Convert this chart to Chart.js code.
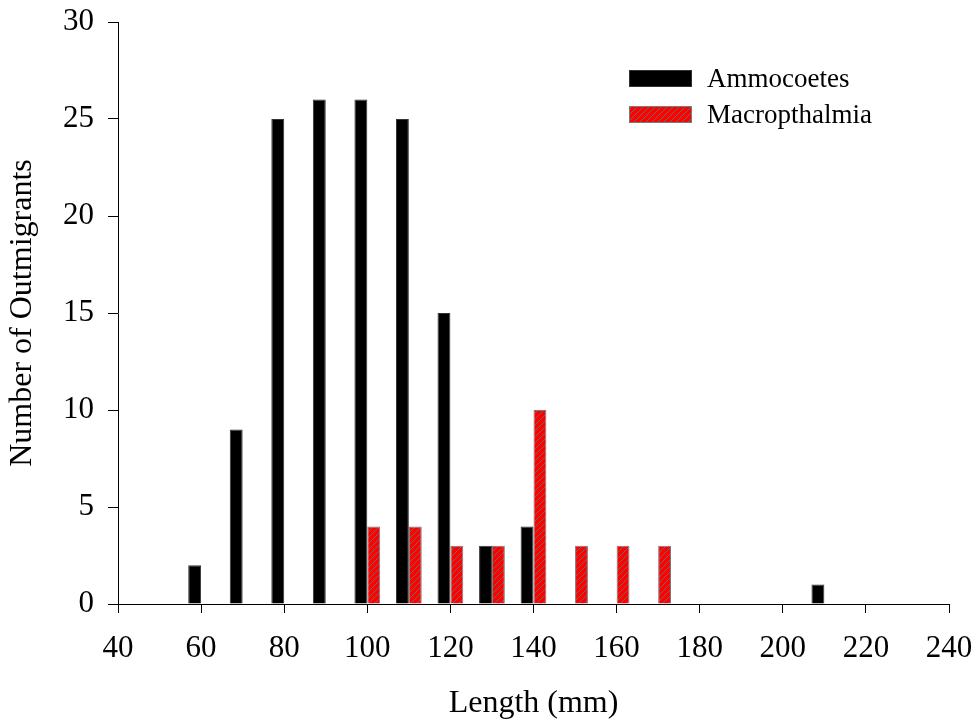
<!DOCTYPE html>
<html>
<head>
<meta charset="utf-8">
<title>Outmigrants by length</title>
<script src="https://cdn.jsdelivr.net/npm/chart.js@4.4.1/dist/chart.umd.min.js"></script>
<style>
  html, body { margin: 0; padding: 0; background: #fff; }
  #wrap { width: 979px; height: 723px; }
</style>
</head>
<body>
<div id="wrap"><canvas id="myChart" width="979" height="723"></canvas></div>
<script>
// length classes (mm) and counts
var lengths = [60, 70, 80, 90, 100, 110, 120, 130, 140, 150, 160, 170, 180, 190, 200, 210];
var ammocoetes = [2, 9, 25, 26, 26, 25, 15, 3, 4, 0, 0, 0, 0, 0, 0, 1];
var macropthalmia = [0, 0, 0, 0, 4, 4, 3, 3, 10, 3, 3, 3, 0, 0, 0, 0];
var xTicks = [40, 60, 80, 100, 120, 140, 160, 180, 200, 220, 240];
var yTicks = [0, 5, 10, 15, 20, 25, 30];
var seriesNames = ['Ammocoetes', 'Macropthalmia'];

var serif = "'Liberation Serif', 'Times New Roman', serif";

function toPoints(values) {
    var pts = [];
    for (var i = 0; i < lengths.length; i++) {
        if (values[i] > 0) pts.push({x: lengths[i], y: values[i]});
    }
    return pts;
}

var ctx = document.getElementById('myChart').getContext('2d');

function makeHatch() {
    var c = document.createElement('canvas');
    c.width = 6; c.height = 6;
    var g = c.getContext('2d');
    g.fillStyle = '#ff0000';
    g.fillRect(0, 0, 6, 6);
    g.strokeStyle = '#6a6a6a';
    g.lineWidth = 1;
    g.beginPath();
    g.moveTo(0, 6); g.lineTo(6, 0);
    g.moveTo(-1, 1); g.lineTo(1, -1);
    g.moveTo(5, 7); g.lineTo(7, 5);
    g.stroke();
    return ctx.createPattern(c, 'repeat');
}
var hatch = makeHatch();

// legend in the top right corner of the plot
var boxLegend = {
    id: 'boxLegend',
    afterDraw: function (chart) {
        var c = chart.ctx;
        var fills = ['#000000', hatch];
        var borders = ['#333333', '#7a7a7a'];
        c.save();
        c.font = '27px ' + serif;
        c.textBaseline = 'alphabetic';
        for (var i = 0; i < seriesNames.length; i++) {
            var top = 70 + i * 36;
            c.fillStyle = fills[i];
            c.fillRect(629, top, 63, 17);
            c.strokeStyle = borders[i];
            c.lineWidth = 1;
            c.strokeRect(629.5, top + 0.5, 62, 16);
            c.fillStyle = '#000';
            c.fillText(seriesNames[i], 707, top + 17);
        }
        c.restore();
    }
};

var myChart = new Chart(ctx, {
    type: 'bar',
    data: {
        datasets: [{
            label: seriesNames[0],
            data: toPoints(ammocoetes),
            backgroundColor: '#000000',
            borderColor: '#333333',
            borderWidth: 1
        }, {
            label: seriesNames[1],
            data: toPoints(macropthalmia),
            backgroundColor: hatch,
            borderColor: '#7a7a7a',
            borderWidth: 1
        }]
    },
    options: {
        responsive: false,
        animation: false,
        devicePixelRatio: 1,
        layout: {padding: {left: 0, right: 30, top: 22, bottom: 0}},
        datasets: {
            bar: {barPercentage: 1, categoryPercentage: 0.62}
        },
        plugins: {
            legend: {display: false},
            tooltip: {enabled: false}
        },
        scales: {
            x: {
                type: 'linear',
                min: 40,
                max: 240,
                offset: false,
                afterBuildTicks: function (scale) {
                    scale.ticks = xTicks.map(function (v) { return {value: v}; });
                },
                afterFit: function (scale) {
                    scale.height = 119;
                    scale.paddingLeft = 0;
                    scale.paddingRight = 0;
                },
                grid: {display: true, offset: false, drawOnChartArea: false, drawTicks: true, tickLength: 9, color: '#000'},
                border: {display: true, color: '#000', width: 1},
                ticks: {color: '#000', font: {family: serif, size: 31}, padding: 17, maxRotation: 0, autoSkip: false},
                title: {display: true, text: 'Length (mm)', color: '#000', font: {family: serif, size: 32}, padding: {top: 0, bottom: 0}}
            },
            y: {
                min: 0,
                max: 30,
                afterBuildTicks: function (scale) {
                    scale.ticks = yTicks.map(function (v) { return {value: v}; });
                },
                afterFit: function (scale) {
                    scale.width = 118;
                    scale.paddingTop = 0;
                    scale.paddingBottom = 0;
                },
                grid: {display: true, drawOnChartArea: false, drawTicks: true, tickLength: 10, color: '#000'},
                border: {display: true, color: '#000', width: 1},
                ticks: {color: '#000', font: {family: serif, size: 31}, padding: 14},
                title: {display: true, text: 'Number of Outmigrants', color: '#000', font: {family: serif, size: 32}, padding: {top: 3, bottom: 0}}
            }
        }
    },
    plugins: [boxLegend]
});
</script>
</body>
</html>
